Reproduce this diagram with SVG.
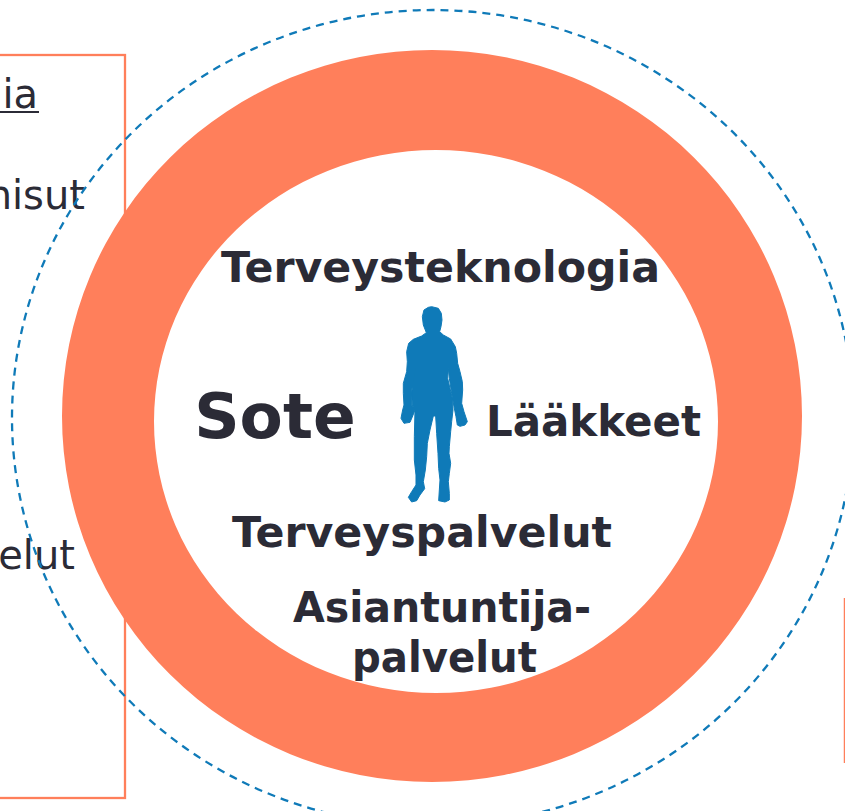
<svg xmlns="http://www.w3.org/2000/svg" width="845" height="811" viewBox="0 0 845 811">
<style>
.t{font-family:"DejaVu Sans",Verdana,sans-serif;fill:#2b2b36}
.b{font-weight:700;font-size:42px}
.r{font-size:40px}
</style>
<rect width="845" height="811" fill="#fff"/>
<g id="left-box">
<rect x="-20" y="55" width="145" height="743" fill="none" stroke="#ff7f5b" stroke-width="2.300"/>
<text class="t r" x="38" y="108" text-anchor="end">ia</text>
<line x1="0" y1="112" x2="39" y2="112" stroke="#2b2b36" stroke-width="2"/>
<text class="t r" x="85" y="209" text-anchor="end">nisut</text>
<text class="t r" x="75" y="569" text-anchor="end">elut</text>
</g>
<g id="right-box"><line x1="844.5" y1="598" x2="844.5" y2="763" stroke="#ff7f5b" stroke-width="1.500"/></g>
<g id="dashed-ring"><ellipse cx="432.700" cy="418" rx="420.700" ry="408" fill="none" stroke="#0f7ab8" stroke-width="2.300" stroke-dasharray="8 6"/></g>
<g id="ring"><path fill="#ff7f5b" fill-rule="evenodd" d="M62 416a370 366 0 1 0 740 0a370 366 0 1 0-740 0ZM154 421.500a282 271.500 0 1 0 564 0a282 271.500 0 1 0-564 0Z"/></g>
<g id="figure"><path transform="translate(380 290) scale(.33333)" fill="#0f7ab8" stroke="#0f7ab8" stroke-width="3" stroke-linejoin="round" d="M155 50L175 55L184 70L186 90L183 110L179 125L190 135L212 147L226 170L230 190L233 220L240 245L247 275L248 300L245 340L252 365L262 395L255 405L240 409L232 405L228 380L222 350L215 310L208 265L205 235L203 265L210 295L218 330L219 360L215 395L212 425L208 470L207 490L212 520L208 550L205 575L208 610L208 630L195 636L176 632L178 600L180 570L176 535L174 490L170 430L167 378L160 378L150 420L142 460L140 500L136 540L130 575L134 596L120 615L110 632L95 636L85 622L95 605L108 585L108 555L103 510L103 440L105 362L97 345L95 310L100 270L108 232L95 300L95 345L105 360L98 378L90 397L72 400L63 385L68 360L72 345L70 310L70 280L80 245L82 215L80 185L86 160L100 148L125 138L139 128L130 105L127 80L132 60L145 52Z"/></g>
<g id="labels">
<text class="t b" x="440.500" y="282" text-anchor="middle" textLength="439" lengthAdjust="spacingAndGlyphs">Terveysteknologia</text>
<text class="t" x="275" y="438" text-anchor="middle" font-size="63" font-weight="700">Sote</text>
<text class="t b" x="593.500" y="436" text-anchor="middle" textLength="215" lengthAdjust="spacingAndGlyphs">Lääkkeet</text>
<text class="t b" x="422" y="547" text-anchor="middle" textLength="380" lengthAdjust="spacingAndGlyphs">Terveyspalvelut</text>
<text class="t b" x="442" y="622" text-anchor="middle" textLength="298" lengthAdjust="spacingAndGlyphs">Asiantuntija-</text>
<text class="t b" x="444.500" y="672" text-anchor="middle" textLength="185" lengthAdjust="spacingAndGlyphs">palvelut</text>
</g>
</svg>
